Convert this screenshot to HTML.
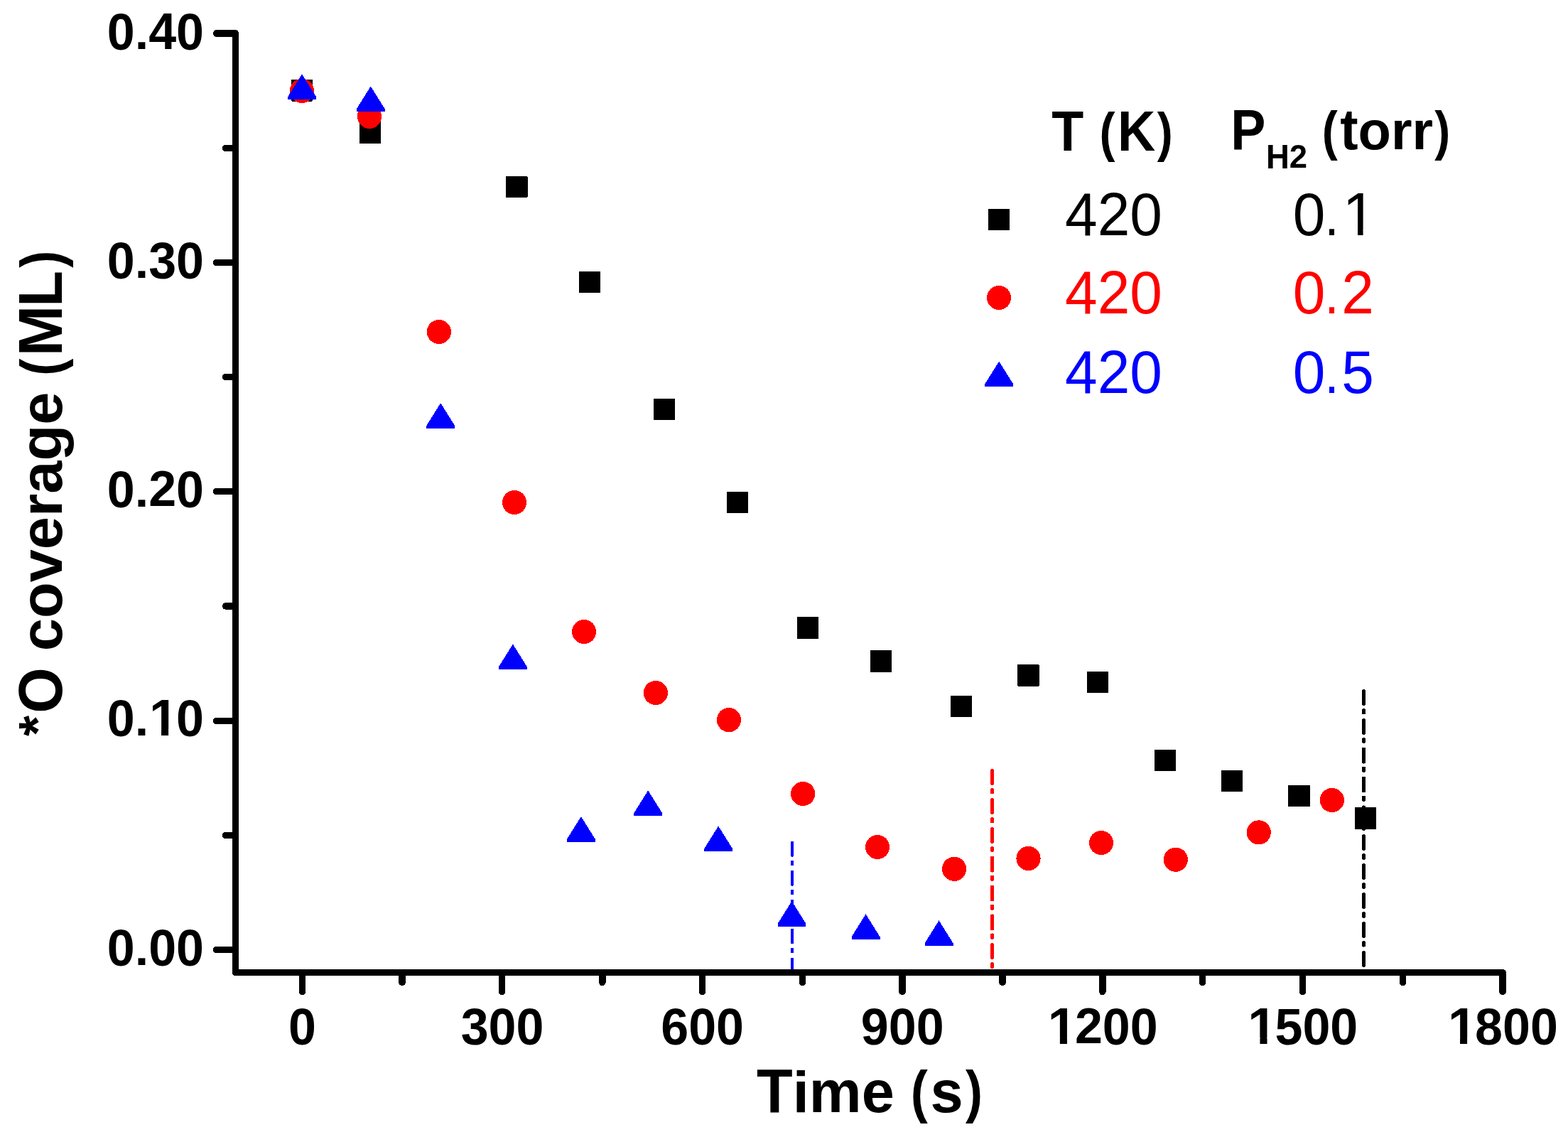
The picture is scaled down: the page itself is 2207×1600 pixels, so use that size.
<!DOCTYPE html>
<html lang="en"><head><meta charset="utf-8"><title>*O coverage vs Time</title>
<style>
html,body{margin:0;padding:0;background:#fff;}
body{width:2207px;height:1600px;}
svg{display:block;shape-rendering:crispEdges;}
text{font-family:"Liberation Sans",sans-serif;font-kerning:none;white-space:pre;}
.b{font-weight:bold;}
.r{font-weight:normal;}
.ax{stroke:#000;stroke-width:9.5;fill:none;stroke-linecap:round;stroke-linejoin:round;}
</style></head><body>
<svg width="2207" height="1600" viewBox="0 0 2207 1600">
<rect width="2207" height="1600" fill="#fff"/>
<g>
<line x1="1115" y1="1185.8" x2="1115" y2="1364" stroke="#00f" stroke-width="4" stroke-linecap="round" stroke-dasharray="18 9 3.6 10.3"/>
<line x1="1396.5" y1="1084.4" x2="1396.5" y2="1364" stroke="#f00" stroke-width="5" stroke-linecap="round" stroke-dasharray="18 9 3.6 10.3"/>
<line x1="1919.5" y1="972.3" x2="1919.5" y2="1364" stroke="#000" stroke-width="5" stroke-linecap="round" stroke-dasharray="18 9 3.6 10.3"/>
</g>
<g fill="#000">
<rect x="409.8" y="112.2" width="30.4" height="30.4" rx="1"/>
<rect x="505.8" y="171.4" width="30.4" height="30.4" rx="1"/>
<rect x="712.2" y="247.8" width="30.4" height="30.4" rx="1"/>
<rect x="814.8" y="381.8" width="30.4" height="30.4" rx="1"/>
<rect x="919.8" y="560.8" width="30.4" height="30.4" rx="1"/>
<rect x="1022.8" y="691.8" width="30.4" height="30.4" rx="1"/>
<rect x="1121.8" y="868.3" width="30.4" height="30.4" rx="1"/>
<rect x="1224.8" y="915.3" width="30.4" height="30.4" rx="1"/>
<rect x="1337.8" y="978.8" width="30.4" height="30.4" rx="1"/>
<rect x="1432.3" y="935.1" width="30.4" height="30.4" rx="1"/>
<rect x="1529.8" y="944.8" width="30.4" height="30.4" rx="1"/>
<rect x="1624.8" y="1054.8" width="30.4" height="30.4" rx="1"/>
<rect x="1718.8" y="1083.8" width="30.4" height="30.4" rx="1"/>
<rect x="1813.3" y="1104.8" width="30.4" height="30.4" rx="1"/>
<rect x="1906.8" y="1136.3" width="30.4" height="30.4" rx="1"/>
</g>
<g fill="#f00">
<circle cx="425" cy="127.8" r="17.1"/>
<circle cx="520" cy="163.8" r="17.1"/>
<circle cx="617.9" cy="467" r="17.1"/>
<circle cx="724" cy="707" r="17.1"/>
<circle cx="822.1" cy="889" r="17.1"/>
<circle cx="922.9" cy="975" r="17.1"/>
<circle cx="1026" cy="1013.1" r="17.1"/>
<circle cx="1130.2" cy="1117" r="17.1"/>
<circle cx="1235.1" cy="1192" r="17.1"/>
<circle cx="1343.1" cy="1222.8" r="17.1"/>
<circle cx="1447.5" cy="1208" r="17.1"/>
<circle cx="1550" cy="1186" r="17.1"/>
<circle cx="1654.8" cy="1209.7" r="17.1"/>
<circle cx="1771.7" cy="1171.4" r="17.1"/>
<circle cx="1874.8" cy="1126" r="17.1"/>
</g>
<g fill="#00f">
<polygon points="425.1,104.3 445.05,136.2 445.05,139.8 405.15,139.8 405.15,136.2"/>
<polygon points="521.8,121.4 541.75,153.3 541.75,156.9 501.85,156.9 501.85,153.3"/>
<polygon points="620.2,567.2 640.15,599.1 640.15,602.7 600.25,602.7 600.25,599.1"/>
<polygon points="721.9,906.5 741.85,938.4 741.85,942 701.95,942 701.95,938.4"/>
<polygon points="817.9,1149 837.85,1180.9 837.85,1184.5 797.95,1184.5 797.95,1180.9"/>
<polygon points="912.2,1112.3 932.15,1144.2 932.15,1147.8 892.25,1147.8 892.25,1144.2"/>
<polygon points="1011.1,1162.4 1031.05,1194.3 1031.05,1197.9 991.15,1197.9 991.15,1194.3"/>
<polygon points="1114.5,1268.1 1134.45,1300 1134.45,1303.6 1094.55,1303.6 1094.55,1300"/>
<polygon points="1218.6,1286.3 1238.55,1318.2 1238.55,1321.8 1198.65,1321.8 1198.65,1318.2"/>
<polygon points="1321.6,1295.3 1341.55,1327.2 1341.55,1330.8 1301.65,1330.8 1301.65,1327.2"/>
</g>
<g class="ax">
<polyline points="331.5,47 331.5,1368.5 2115,1368.5"/>
<line x1="331.5" y1="1336.5" x2="304.5" y2="1336.5"/>
<line x1="331.5" y1="1175.31" x2="317.5" y2="1175.31"/>
<line x1="331.5" y1="1014.5" x2="304.5" y2="1014.5"/>
<line x1="331.5" y1="852.94" x2="317.5" y2="852.94"/>
<line x1="331.5" y1="691.5" x2="304.5" y2="691.5"/>
<line x1="331.5" y1="530.56" x2="317.5" y2="530.56"/>
<line x1="331.5" y1="369.37" x2="304.5" y2="369.37"/>
<line x1="331.5" y1="208.5" x2="317.5" y2="208.5"/>
<line x1="331.5" y1="47" x2="304.5" y2="47"/>
<line x1="425.5" y1="1368.5" x2="425.5" y2="1395.5"/>
<line x1="566" y1="1368.5" x2="566" y2="1382.5"/>
<line x1="706.5" y1="1368.5" x2="706.5" y2="1395.5"/>
<line x1="847.88" y1="1368.5" x2="847.88" y2="1382.5"/>
<line x1="988.67" y1="1368.5" x2="988.67" y2="1395.5"/>
<line x1="1129.46" y1="1368.5" x2="1129.46" y2="1382.5"/>
<line x1="1270" y1="1368.5" x2="1270" y2="1395.5"/>
<line x1="1411.04" y1="1368.5" x2="1411.04" y2="1382.5"/>
<line x1="1551.83" y1="1368.5" x2="1551.83" y2="1395.5"/>
<line x1="1692.62" y1="1368.5" x2="1692.62" y2="1382.5"/>
<line x1="1833.42" y1="1368.5" x2="1833.42" y2="1395.5"/>
<line x1="1974.5" y1="1368.5" x2="1974.5" y2="1382.5"/>
<line x1="2115" y1="1368.5" x2="2115" y2="1395.5"/>
</g>
<g class="b">
<text aria-label="0.00"><tspan x="150.76" y="1358.6" font-size="72.83" textLength="38.93" lengthAdjust="spacingAndGlyphs">0</tspan><tspan x="189.69" y="1357.6" font-size="65.1" textLength="19.45" lengthAdjust="spacingAndGlyphs">.</tspan><tspan x="209.14" y="1358.6" font-size="72.83" textLength="77.86" lengthAdjust="spacingAndGlyphs">00</tspan></text>
<text aria-label="0.10"><tspan x="150.76" y="1035.6" font-size="72.83" textLength="38.93" lengthAdjust="spacingAndGlyphs">0</tspan><tspan x="189.69" y="1034.6" font-size="65.1" textLength="19.45" lengthAdjust="spacingAndGlyphs">.</tspan><tspan x="209.91" y="1034.6" font-size="72.83" textLength="40.8" lengthAdjust="spacingAndGlyphs">1</tspan><tspan x="248.07" y="1035.6" font-size="72.83" textLength="38.93" lengthAdjust="spacingAndGlyphs">0</tspan></text>
<text aria-label="0.20"><tspan x="150.76" y="713.6" font-size="72.83" textLength="38.93" lengthAdjust="spacingAndGlyphs">0</tspan><tspan x="189.69" y="712.6" font-size="65.1" textLength="19.45" lengthAdjust="spacingAndGlyphs">.</tspan><tspan x="209.14" y="712.41" font-size="71.16" textLength="38.93" lengthAdjust="spacingAndGlyphs">2</tspan><tspan x="248.07" y="713.6" font-size="72.83" textLength="38.93" lengthAdjust="spacingAndGlyphs">0</tspan></text>
<text aria-label="0.30"><tspan x="150.76" y="391.6" font-size="72.83" textLength="38.93" lengthAdjust="spacingAndGlyphs">0</tspan><tspan x="189.69" y="390.6" font-size="65.1" textLength="19.45" lengthAdjust="spacingAndGlyphs">.</tspan><tspan x="209.14" y="391.6" font-size="72.83" textLength="77.86" lengthAdjust="spacingAndGlyphs">30</tspan></text>
<text aria-label="0.40"><tspan x="150.76" y="69.6" font-size="72.83" textLength="38.93" lengthAdjust="spacingAndGlyphs">0</tspan><tspan x="189.69" y="68.6" font-size="65.1" textLength="19.45" lengthAdjust="spacingAndGlyphs">.</tspan><tspan x="209.14" y="68.6" font-size="71.4" textLength="38.93" lengthAdjust="spacingAndGlyphs">4</tspan><tspan x="248.07" y="69.6" font-size="72.83" textLength="38.93" lengthAdjust="spacingAndGlyphs">0</tspan></text>
</g>
<g class="b">
<text aria-label="0"><tspan x="406.03" y="1469.6" font-size="72.83" textLength="38.93" lengthAdjust="spacingAndGlyphs">0</tspan></text>
<text aria-label="300"><tspan x="648.69" y="1469.6" font-size="72.83" textLength="116.79" lengthAdjust="spacingAndGlyphs">300</tspan></text>
<text aria-label="600"><tspan x="930.27" y="1469.6" font-size="72.83" textLength="116.79" lengthAdjust="spacingAndGlyphs">600</tspan></text>
<text aria-label="900"><tspan x="1211.85" y="1469.6" font-size="72.83" textLength="116.79" lengthAdjust="spacingAndGlyphs">900</tspan></text>
<text aria-label="1200"><tspan x="1474.74" y="1468.6" font-size="72.83" textLength="40.8" lengthAdjust="spacingAndGlyphs">1</tspan><tspan x="1512.9" y="1468.41" font-size="71.16" textLength="38.93" lengthAdjust="spacingAndGlyphs">2</tspan><tspan x="1551.83" y="1469.6" font-size="72.83" textLength="77.86" lengthAdjust="spacingAndGlyphs">00</tspan></text>
<text aria-label="1500"><tspan x="1756.33" y="1468.6" font-size="72.83" textLength="40.8" lengthAdjust="spacingAndGlyphs">1</tspan><tspan x="1794.49" y="1469.6" font-size="72.83" textLength="116.79" lengthAdjust="spacingAndGlyphs">500</tspan></text>
<text aria-label="1800"><tspan x="2037.91" y="1468.6" font-size="72.83" textLength="40.8" lengthAdjust="spacingAndGlyphs">1</tspan><tspan x="2076.07" y="1469.6" font-size="72.83" textLength="116.79" lengthAdjust="spacingAndGlyphs">800</tspan></text>
</g>
<g class="b">
<text aria-label="Time (s)"><tspan x="1065.09" y="1565" font-size="86.36" textLength="50.7" lengthAdjust="spacingAndGlyphs">T</tspan><tspan x="1115.79" y="1565" font-size="82.17" textLength="23.06" lengthAdjust="spacingAndGlyphs">i</tspan><tspan x="1138.85" y="1565" font-size="83.41" textLength="119.96" lengthAdjust="spacingAndGlyphs">me</tspan> <tspan x="1281.67" y="1564.45" font-size="82.34" textLength="24.05" lengthAdjust="spacingAndGlyphs">(</tspan><tspan x="1309.51" y="1565" font-size="83.41" textLength="46.16" lengthAdjust="spacingAndGlyphs">s</tspan><tspan x="1358.96" y="1564.45" font-size="82.34" textLength="24.05" lengthAdjust="spacingAndGlyphs">)</tspan></text>
<text aria-label="*O coverage (ML)" transform="translate(87 694.8) rotate(-90)"><tspan x="-341.18" y="-9.21" font-size="74.7" textLength="29.07" lengthAdjust="spacingAndGlyphs">*</tspan><tspan x="-309" y="0" font-size="86.36" textLength="64.56" lengthAdjust="spacingAndGlyphs">O</tspan> <tspan x="-221.38" y="0" font-size="83.41" textLength="364.5" lengthAdjust="spacingAndGlyphs">coverage</tspan> <tspan x="165.99" y="-0.55" font-size="82.34" textLength="24.05" lengthAdjust="spacingAndGlyphs">(</tspan><tspan x="193.61" y="0" font-size="86.36" textLength="71.56" lengthAdjust="spacingAndGlyphs">M</tspan><tspan x="262.96" y="0" font-size="86.36" textLength="50.7" lengthAdjust="spacingAndGlyphs">L</tspan><tspan x="317.95" y="-0.55" font-size="82.34" textLength="24.05" lengthAdjust="spacingAndGlyphs">)</tspan></text>
</g>
<g class="b">
<text aria-label="T (K)"><tspan x="1480.2" y="212" font-size="80.03" textLength="45.03" lengthAdjust="spacingAndGlyphs">T</tspan> <tspan x="1547.56" y="211.5" font-size="75.39" textLength="22.02" lengthAdjust="spacingAndGlyphs">(</tspan><tspan x="1573.05" y="212" font-size="80.03" textLength="53.24" lengthAdjust="spacingAndGlyphs">K</tspan><tspan x="1628.82" y="211.5" font-size="75.39" textLength="22.02" lengthAdjust="spacingAndGlyphs">)</tspan></text>
<text aria-label="PH2 (torr)"><tspan x="1732.2" y="210.2" font-size="80.03" textLength="49.17" lengthAdjust="spacingAndGlyphs">P</tspan><tspan x="1782" y="236.8" font-size="47.34" textLength="32.86" lengthAdjust="spacingAndGlyphs">H</tspan><tspan x="1814.86" y="236.03" font-size="46.26" textLength="25.3" lengthAdjust="spacingAndGlyphs">2</tspan> <tspan x="1860.82" y="209.7" font-size="75.39" textLength="22.02" lengthAdjust="spacingAndGlyphs">(</tspan><tspan x="1886.31" y="210.2" font-size="81.7" textLength="25.31" lengthAdjust="spacingAndGlyphs">t</tspan><tspan x="1911.62" y="210.2" font-size="76.38" textLength="105.58" lengthAdjust="spacingAndGlyphs">orr</tspan><tspan x="2019.14" y="209.7" font-size="75.39" textLength="22.02" lengthAdjust="spacingAndGlyphs">)</tspan></text>
</g>
<g class="r">
<text aria-label="420" fill="#000"><tspan x="1499.1" y="331" font-size="85.58" textLength="136.81" lengthAdjust="spacingAndGlyphs">420</tspan></text>
<text aria-label="0.1" fill="#000"><tspan x="1819.8" y="331" font-size="85.58" textLength="45.6" lengthAdjust="spacingAndGlyphs">0</tspan><tspan x="1864.36" y="331" font-size="82" textLength="20.5" lengthAdjust="spacingAndGlyphs">.</tspan><tspan x="1889.44" y="331" font-size="85.58" textLength="47.66" lengthAdjust="spacingAndGlyphs">1</tspan></text>
<text aria-label="420" fill="#f00"><tspan x="1499.1" y="441" font-size="85.58" textLength="136.81" lengthAdjust="spacingAndGlyphs">420</tspan></text>
<text aria-label="0.2" fill="#f00"><tspan x="1819.8" y="441" font-size="85.58" textLength="45.6" lengthAdjust="spacingAndGlyphs">0</tspan><tspan x="1864.36" y="441" font-size="82" textLength="20.5" lengthAdjust="spacingAndGlyphs">.</tspan><tspan x="1888.19" y="441" font-size="85.58" textLength="45.6" lengthAdjust="spacingAndGlyphs">2</tspan></text>
<text aria-label="420" fill="#00f"><tspan x="1499.1" y="553" font-size="85.58" textLength="136.81" lengthAdjust="spacingAndGlyphs">420</tspan></text>
<text aria-label="0.5" fill="#00f"><tspan x="1819.8" y="553" font-size="85.58" textLength="45.6" lengthAdjust="spacingAndGlyphs">0</tspan><tspan x="1864.36" y="553" font-size="82" textLength="20.5" lengthAdjust="spacingAndGlyphs">.</tspan><tspan x="1888.19" y="553" font-size="85.58" textLength="45.6" lengthAdjust="spacingAndGlyphs">5</tspan></text>
</g>
<g>
<rect x="1390.8" y="293.8" width="30.4" height="30.4" rx="1" fill="#000"/>
<circle cx="1406.1" cy="419" r="17.1" fill="#f00"/>
<g fill="#00f"><polygon points="1406.2,508.5 1426.15,540.4 1426.15,544 1386.25,544 1386.25,540.4"/></g>
</g>
<g fill="#fff" shape-rendering="geometricPrecision"><rect x="213.03" y="1025.97" width="14" height="10.13"/><rect x="237.1" y="1025.97" width="12.37" height="10.13"/><rect x="1477.86" y="1459.97" width="14" height="10.13"/><rect x="1501.93" y="1459.97" width="12.37" height="10.13"/><rect x="1759.45" y="1459.97" width="14" height="10.13"/><rect x="1783.51" y="1459.97" width="12.37" height="10.13"/><rect x="2041.03" y="1459.97" width="14" height="10.13"/><rect x="2065.1" y="1459.97" width="12.37" height="10.13"/><rect x="1894.47" y="323.41" width="16.52" height="9.09"/><rect x="1918.56" y="323.41" width="15.15" height="9.09"/></g>
</svg>
</body></html>
